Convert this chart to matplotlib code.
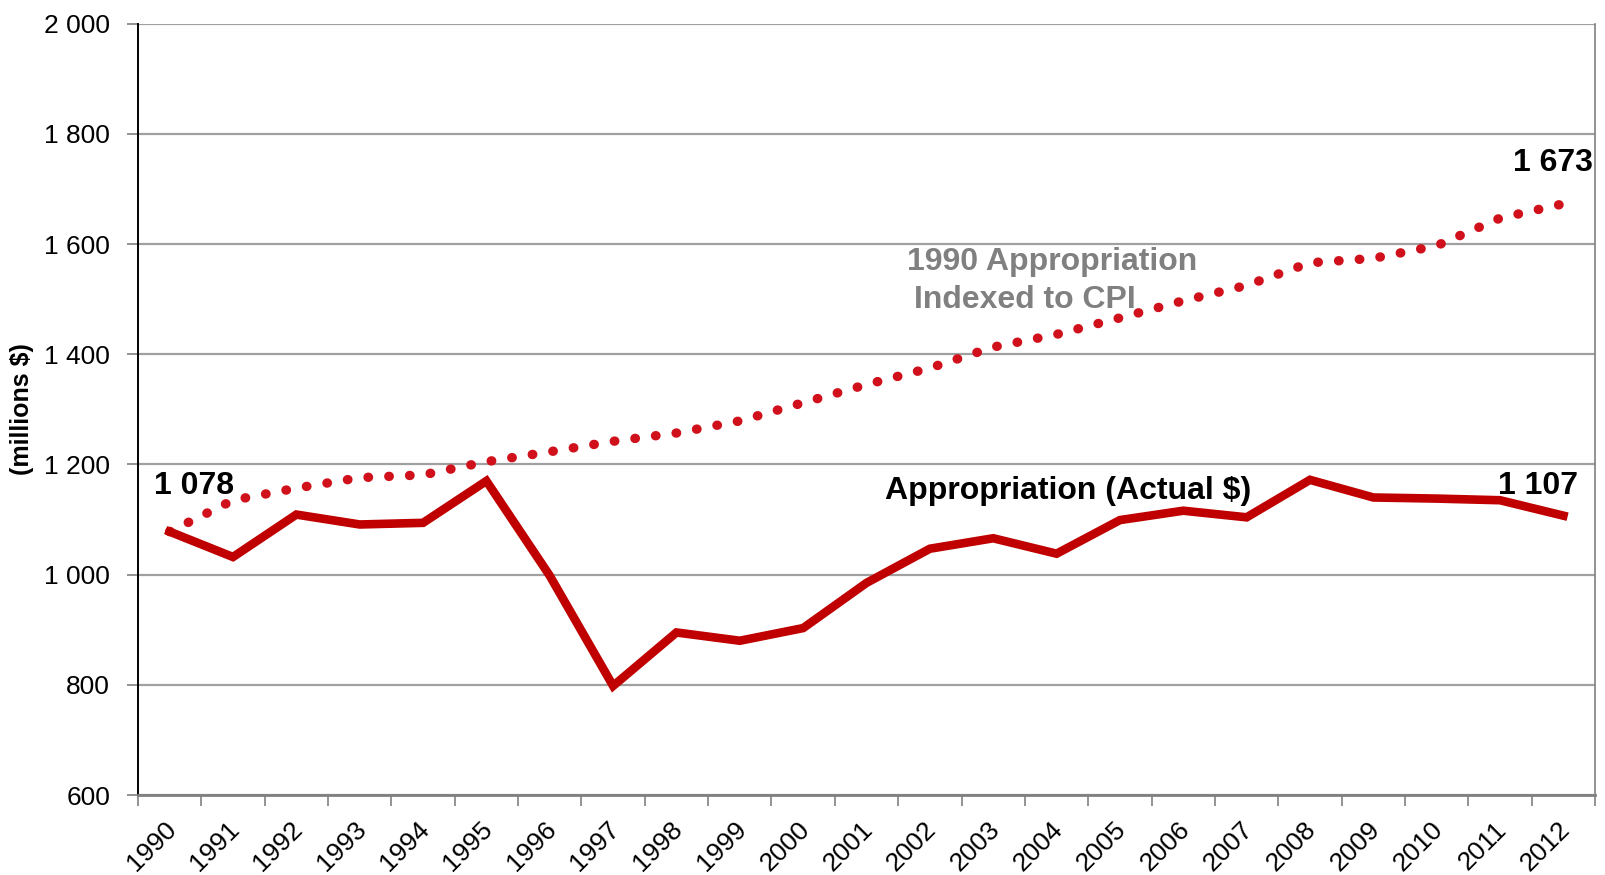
import matplotlib
matplotlib.use("Agg")
import matplotlib.pyplot as plt
from matplotlib.ticker import FixedLocator, FuncFormatter

years = [str(y) for y in range(1990, 2013)]
actual = [1078, 1032, 1109, 1091, 1094, 1170, 998, 798, 895, 880, 903, 985,
          1047, 1066, 1038, 1099, 1116, 1104, 1172, 1140, 1138, 1135, 1107]
cpi_indexed = [1078, 1135, 1157, 1176, 1181, 1205, 1223, 1242, 1257, 1279, 1312, 1345,
               1375, 1413, 1436, 1466, 1497, 1525, 1566, 1574, 1597, 1647, 1673]
y_ticks = [600, 800, 1000, 1200, 1400, 1600, 1800, 2000]

plt.rcParams['font.family'] = ['Liberation Sans', 'DejaVu Sans']

fig = plt.figure(figsize=(16.06, 8.75), dpi=100)
ax = fig.add_axes([0.0859, 0.0914, 0.9073, 0.8816])

x = list(range(len(years)))
red = '#C00000'
ax.plot(x, actual, color=red, linewidth=6.2, solid_joinstyle='miter', zorder=4)
ax.plot(x, cpi_indexed, color='#D0101A', linewidth=6.8, linestyle=(0, (0.05, 2.15)),
        dash_capstyle='round', zorder=3)

ax.set_xlim(-0.5, len(years) - 0.5)
ax.set_ylim(600, 2000)
ax.set_yticks(y_ticks)
ax.yaxis.set_major_formatter(FuncFormatter(lambda v, p: f"{int(v):,}".replace(",", " ")))
ax.grid(axis='y', color='#A0A0A0', linewidth=1.6, zorder=0)
ax.set_axisbelow(True)

ax.xaxis.set_major_locator(FixedLocator([i - 0.5 for i in range(len(years) + 1)]))
ax.xaxis.set_minor_locator(FixedLocator(x))
ax.set_xticklabels([])
ax.set_xticklabels(years, minor=True, rotation=45, ha='right', va='top',
                   rotation_mode='anchor', fontsize=19)
ax.tick_params(axis='x', which='major', length=8, width=1.2, color='#808080', direction='out')
ax.tick_params(axis='x', which='minor', length=0, pad=16)
ax.tick_params(axis='y', which='major', length=8, width=1.2, color='#808080',
               direction='out', labelsize=19, pad=12)
for lbl in ax.get_xticklabels(minor=True):
    lbl.set_transform(lbl.get_transform() + matplotlib.transforms.ScaledTranslation(-0.06, 0, fig.dpi_scale_trans))

ax.spines['left'].set_color('#000000')
ax.spines['left'].set_linewidth(1.4)
ax.spines['bottom'].set_color('#808080')
ax.spines['bottom'].set_linewidth(2.0)
ax.spines['top'].set_visible(False)
ax.spines['right'].set_color('#808080')
ax.spines['right'].set_linewidth(1.2)

ax.set_ylabel('(millions $)', fontsize=18, fontweight='bold', labelpad=7)

ax.text(0.39, 1160, '1 078', fontsize=23, fontweight='bold', ha='center', va='center', zorder=5)
ax.text(21.6, 1160, '1 107', fontsize=23, fontweight='bold', ha='center', va='center', zorder=5)
ax.text(21.83, 1747, '1 673', fontsize=23, fontweight='bold', ha='center', va='center', zorder=5)
ax.text(14.18, 1152, 'Appropriation (Actual $)', fontsize=23, fontweight='bold',
        ha='center', va='center', zorder=5)
ax.text(13.93, 1567, '1990 Appropriation', fontsize=23, fontweight='bold', color='#808080',
        ha='center', va='center', zorder=5)
ax.text(13.5, 1498, 'Indexed to CPI', fontsize=23, fontweight='bold', color='#808080',
        ha='center', va='center', zorder=5)

fig.savefig('out.png', dpi=100)
